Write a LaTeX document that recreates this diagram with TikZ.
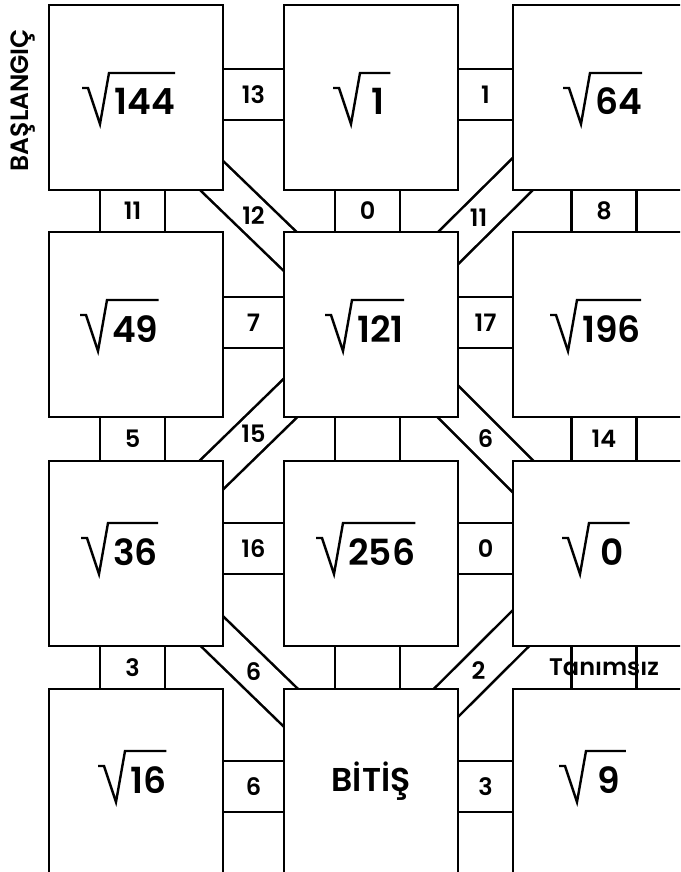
\documentclass[tikz,border=0pt]{standalone}
\usepackage{fontspec}
\setmainfont{Poppins}[BoldFont={Poppins SemiBold}]
\usetikzlibrary{backgrounds}
\tikzset{
  cell/.style={draw,line width=2.6pt,fill=white,minimum width=174pt,minimum height=185pt,inner sep=0pt},
  hlink/.style={line width=2.6pt,double=white,double distance=48.4pt},
  vlink/.style={line width=2.6pt,double=white,double distance=62.4pt},
  dlink/.style={line width=2.6pt,double=white,double distance=34.2pt},
  lbl/.style={font=\fontsize{24}{24}\selectfont\bfseries,inner sep=0pt},
  num/.style={font=\fontsize{36}{36}\selectfont\bfseries,inner sep=0pt,anchor=base west},
  radline/.style={line width=2.4pt},
  pics/rt/.style={code={
    \node[num] (-n) at (0,0) {#1};
    \draw[radline] (-32,-27) -- (-26,-27) -- (-14,9) -- (-5,-42) -- (-n.east |- 0,-42);
  }}
}

\begin{document}
\begin{tikzpicture}[x=1pt,y=-1pt]
\path[use as bounding box,clip] (0,0) rectangle (680,872);
% cells
\node[cell] (b11) at (136,97.5) {};
\node[cell] (b12) at (371,97.5) {};
\node[cell] (b13) at (600,97.5) {};
\node[cell] (b21) at (136,324.5) {};
\node[cell] (b22) at (371,324.5) {};
\node[cell] (b23) at (600,324.5) {};
\node[cell] (b31) at (136,553.5) {};
\node[cell] (b32) at (371,553.5) {};
\node[cell] (b33) at (600,553.5) {};
\node[cell] (b41) at (136,781.5) {};
\node[cell,font=\fontsize{33}{33}\selectfont\bfseries] (b42) at (371,781.5) {BİTİŞ};
\node[cell] (b43) at (600,781.5) {};
\node[rotate=90,anchor=base,font=\fontsize{25}{25}\selectfont\bfseries] (start) at (28.5,100) {BAŞLANGIÇ};
% roots
\pic (r11) at (114,115) {rt=144};
\pic (r12) at (365,115) {rt=\,1\,};
\pic (r13) at (595,115) {rt=64};
\pic (r21) at (112,342) {rt=49};
\pic (r22) at (357,342) {rt=121};
\pic (r23) at (582,342) {rt=196};
\pic (r31) at (113,565) {rt=36};
\pic (r32) at (348,565) {rt=256};
\pic (r33) at (594,565) {rt=\,0\,};
\pic (r41) at (130,793) {rt=16};
\pic (r43) at (591,793) {rt=\,9\,};
% links between cells
\begin{scope}[on background layer]
\fill[white] (0,0) rectangle (680,872);
\draw[hlink] ([yshift=3pt]b11.center) -- node[lbl] (h1) {13} ([yshift=3pt]b12.center);
\draw[hlink] ([yshift=3pt]b12.center) -- node[lbl] (h2) {1} ([yshift=3pt]b13.center);
\draw[hlink] ([yshift=2pt]b21.center) -- node[lbl] (h3) {7} ([yshift=2pt]b22.center);
\draw[hlink] ([yshift=2pt]b22.center) -- node[lbl] (h4) {17} ([yshift=2pt]b23.center);
\draw[hlink] ([yshift=5pt]b31.center) -- node[lbl] (h5) {16} ([yshift=5pt]b32.center);
\draw[hlink] ([yshift=5pt]b32.center) -- node[lbl] (h6) {0} ([yshift=5pt]b33.center);
\draw[hlink] ([yshift=-5pt]b41.center) -- node[lbl] (h7) {6} ([yshift=-5pt]b42.center);
\draw[hlink] ([yshift=-5pt]b42.center) -- node[lbl] (h8) {3} ([yshift=-5pt]b43.center);
\draw[vlink] ([xshift=-3.5pt]b11.center) -- node[lbl] (v1) {11} ([xshift=-3.5pt]b21.center);
\draw[vlink] ([xshift=-3.5pt]b21.center) -- node[lbl] (v2) {5} ([xshift=-3.5pt]b31.center);
\draw[vlink] ([xshift=-3.5pt]b31.center) -- node[lbl] (v3) {3} ([xshift=-3.5pt]b41.center);
\draw[vlink] ([xshift=-3.5pt]b12.center) -- node[lbl] (v4) {0} ([xshift=-3.5pt]b22.center);
\draw[vlink] ([xshift=-3.5pt]b22.center) -- ([xshift=-3.5pt]b32.center);
\draw[vlink] ([xshift=-3.5pt]b32.center) -- ([xshift=-3.5pt]b42.center);
\draw[vlink] ([xshift=4pt]b13.center) -- node[lbl] (v5) {8} ([xshift=4pt]b23.center);
\draw[vlink] ([xshift=4pt]b23.center) -- node[lbl] (v6) {14} ([xshift=4pt]b33.center);
\draw[vlink] ([xshift=4pt]b33.center) -- node[lbl] (v7) {Tanımsız} ([xshift=4pt]b43.center);
\draw[dlink] ([yshift=-5pt]b11.center) -- node[lbl] (d1) {12} ([yshift=-5pt]b22.center);
\draw[dlink] (b13.center) -- node[lbl,pos=.53] (d2) {11} (b22.center);
\draw[dlink] ([yshift=5pt]b22.center) -- node[lbl] (d3) {15} ([yshift=5pt]b31.center);
\draw[dlink] (b22.center) -- node[lbl] (d4) {6} (b33.center);
\draw[dlink] ([yshift=-4pt]b31.center) -- node[lbl] (d5) {6} ([yshift=-4pt]b42.center);
\draw[dlink] ([yshift=4pt]b33.center) -- node[lbl,pos=.53] (d6) {2} ([yshift=4pt]b42.center);
\end{scope}
\end{tikzpicture}
\end{document}
